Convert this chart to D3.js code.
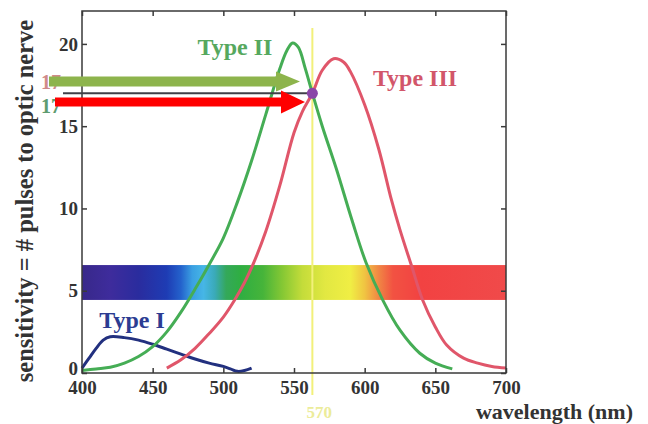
<!DOCTYPE html>
<html>
<head>
<meta charset="utf-8">
<script src="https://cdn.jsdelivr.net/npm/d3@7"></script>
<style>
  body { margin: 0; background: #fff; }
  svg text { font-family: "Liberation Serif", "DejaVu Serif", serif; font-weight: bold; }
</style>
</head>
<body>
<div id="viz"></div>
<script>
// sensitivity curves (wavelength nm, pulses)
var type1 = [[400,0.3],[405,0.9],[410,1.5],[415,2.0],[420,2.2],[430,2.15],[440,2.0],[450,1.75],[460,1.45],[470,1.15],[480,0.85],[490,0.6],[500,0.4],[505,0.25],[510,0.1],[515,0.15],[520,0.3]];
var type2 = [[400,0.15],[410,0.25],[420,0.35],[430,0.6],[440,1.0],[450,1.6],[460,2.5],[470,3.7],[480,5.1],[490,6.6],[500,8.2],[510,10.4],[520,12.9],[530,15.7],[540,18.5],[545,19.6],[549,20.05],[553,19.8],[558,18.5],[563,17.0],[570,15.0],[580,12.4],[591,9.3],[601,6.7],[613,4.4],[625,2.6],[639,1.2],[650,0.6],[662,0.25]];
var type3 = [[460,0.3],[470,0.8],[480,1.5],[490,2.4],[500,3.4],[508,4.44],[515,5.5],[521,6.6],[530,8.6],[540,11.4],[550,14.6],[556,15.9],[563,17.0],[570,18.4],[578,19.1],[585,18.9],[590,18.3],[600,16.3],[610,13.6],[619,10.5],[625,8.7],[633,6.56],[641,4.44],[650,2.8],[658,1.7],[670,0.9],[680,0.6],[690,0.4],[700,0.3]];

var xTicks = [400, 450, 500, 550, 600, 650, 700];
var yTicks = [0, 5, 10, 15, 20];

// visible spectrum band
var bandRange = [4.44, 6.56];
var bandWl = [400, 420, 440, 460, 470, 478, 486, 494, 502, 512, 528, 542, 556, 572, 590, 600, 610, 620, 640, 700];
var bandCol = ['#38288a', '#3e2c9c', '#2a2c9e', '#1e3cb4', '#2462cc', '#3aa0e2', '#46b6e6', '#3aaab8', '#34a85a', '#2fae42', '#46b43a', '#86c834', '#c4dc3a', '#e2e842', '#f0ee44', '#f0c442', '#f08644', '#f25242', '#f24242', '#f04a4a'];

// marked crossing point
var crossWl = 563;
var crossVal = 17;
var crossLabel = '570';

var w = 648, h = 424;

var svg = d3.select('#viz')
  .append('svg')
  .attr('width', w)
  .attr('height', h);

var x = d3.scaleLinear().domain([400, 700]).range([82, 506]);
var y = d3.scaleLinear().domain([0, 22]).range([373, 11]);

// gradient for the spectrum
var grad = svg.append('defs').append('linearGradient')
  .attr('id', 'spec')
  .attr('gradientUnits', 'userSpaceOnUse')
  .attr('x1', x(400)).attr('x2', x(700))
  .attr('y1', 0).attr('y2', 0);

grad.selectAll('stop')
  .data(bandWl)
  .enter()
  .append('stop')
  .attr('offset', d => (d - 400) / 300)
  .attr('stop-color', (d, i) => bandCol[i]);

svg.append('rect')
  .attr('x', x(400))
  .attr('y', y(bandRange[1]))
  .attr('width', x(700) - x(400))
  .attr('height', y(bandRange[0]) - y(bandRange[1]))
  .attr('fill', 'url(#spec)');

// yellow marker line
svg.append('line')
  .attr('x1', x(crossWl)).attr('x2', x(crossWl))
  .attr('y1', 28).attr('y2', 395)
  .attr('stroke', '#f2f07a')
  .attr('stroke-width', 2);

svg.append('text')
  .attr('x', x(crossWl) + 7)
  .attr('y', 418)
  .attr('text-anchor', 'middle')
  .attr('font-size', 17)
  .attr('fill', '#ecec9a')
  .text(crossLabel);

// curves
var line = d3.line()
  .x(d => x(d[0]))
  .y(d => y(d[1]))
  .curve(d3.curveCatmullRom);

svg.append('path').datum(type1)
  .attr('d', line).attr('fill', 'none')
  .attr('stroke', '#22307f').attr('stroke-width', 3);

svg.append('path').datum(type2)
  .attr('d', line).attr('fill', 'none')
  .attr('stroke', '#45ad55').attr('stroke-width', 3);

svg.append('path').datum(type3)
  .attr('d', line).attr('fill', 'none')
  .attr('stroke', '#e0566a').attr('stroke-width', 3);

// frame and axes, ticks pointing in
svg.append('rect')
  .attr('x', x(400)).attr('y', y(22))
  .attr('width', x(700) - x(400))
  .attr('height', y(0) - y(22))
  .attr('fill', 'none')
  .attr('stroke', '#3a3a3a')
  .attr('stroke-width', 1.5);

svg.append('g')
  .attr('transform', 'translate(0,' + y(0) + ')')
  .call(d3.axisBottom(x).tickValues(xTicks).tickSize(-5).tickPadding(8));

svg.append('g')
  .attr('class', 'yax')
  .attr('transform', 'translate(' + x(400) + ',0)')
  .call(d3.axisLeft(y).tickValues(yTicks).tickSize(-5).tickPadding(4));

svg.append('g')
  .attr('transform', 'translate(0,' + y(22) + ')')
  .call(d3.axisTop(x).tickValues(xTicks).tickSize(-5).tickFormat(''));

svg.append('g')
  .attr('transform', 'translate(' + x(700) + ',0)')
  .call(d3.axisRight(y).tickValues(yTicks).tickSize(-5).tickFormat(''));

svg.selectAll('.domain').remove();
svg.selectAll('.tick line').attr('stroke', '#3a3a3a').attr('stroke-width', 1.5);
svg.selectAll('.tick text')
  .attr('font-size', 19)
  .attr('fill', '#333');
// the zero label sits a little high, clear of the 400 below it
svg.selectAll('.yax .tick text').filter(d => d === 0).attr('dy', '0.1em');

// axis titles
svg.append('text')
  .attr('x', 633)
  .attr('y', 419)
  .attr('text-anchor', 'end')
  .attr('font-size', 22)
  .attr('fill', '#333')
  .text('wavelength (nm)');

svg.append('text')
  .attr('transform', 'translate(33,201) rotate(-90)')
  .attr('text-anchor', 'middle')
  .attr('font-size', 24.5)
  .attr('fill', '#333')
  .text('sensitivity = # pulses to optic nerve');

// curve labels
svg.append('text').attr('x', 235).attr('y', 55)
  .attr('text-anchor', 'middle').attr('font-size', 24)
  .attr('fill', '#56a85e').text('Type II');

svg.append('text').attr('x', 415).attr('y', 86)
  .attr('text-anchor', 'middle').attr('font-size', 24)
  .attr('fill', '#d2566a').text('Type III');

svg.append('text').attr('x', 132).attr('y', 328)
  .attr('text-anchor', 'middle').attr('font-size', 24)
  .attr('fill', '#2c3c92').text('Type I');

// "17" readings
svg.append('text').attr('x', 51).attr('y', 89)
  .attr('text-anchor', 'middle').attr('font-size', 20)
  .attr('fill', '#d08a8a').text(crossVal);

svg.append('text').attr('x', 51).attr('y', 113)
  .attr('text-anchor', 'middle').attr('font-size', 20)
  .attr('fill', '#5e9c70').text(crossVal);

// reading line and point
svg.append('line')
  .attr('x1', 63).attr('x2', x(crossWl))
  .attr('y1', y(crossVal)).attr('y2', y(crossVal))
  .attr('stroke', '#404048').attr('stroke-width', 2);

svg.append('circle')
  .attr('cx', x(crossWl)).attr('cy', y(crossVal))
  .attr('r', 5.5)
  .attr('fill', '#8a45a8');

// arrows
function arrow(x0, x1, yc, shaft, head, headLen, color) {
  var p = [
    [x0, yc - shaft / 2], [x1 - headLen, yc - shaft / 2], [x1 - headLen, yc - head / 2],
    [x1, yc], [x1 - headLen, yc + head / 2], [x1 - headLen, yc + shaft / 2], [x0, yc + shaft / 2]
  ];
  svg.append('path')
    .attr('d', 'M' + p.join('L') + 'Z')
    .attr('fill', color);
}

arrow(49, 300, 81.5, 10, 20, 24, '#8db44c');
arrow(55, 305, 102, 9, 23, 24, '#ff0000');
</script>
</body>
</html>
